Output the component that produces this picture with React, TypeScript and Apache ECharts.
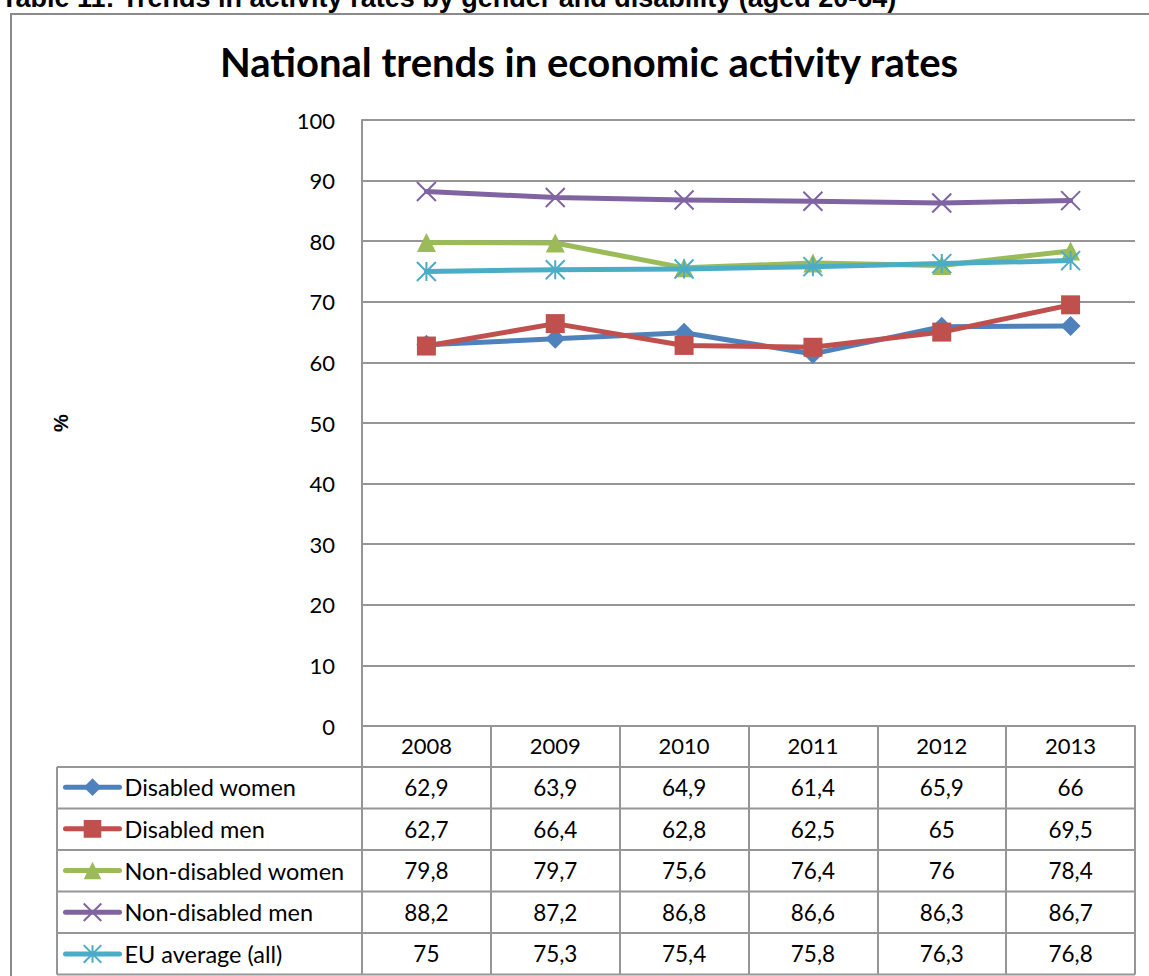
import React, { useEffect, useRef } from "react";
import * as echarts from "echarts";

const categories = ["2008", "2009", "2010", "2011", "2012", "2013"];
const seriesNames = [
  "Disabled women",
  "Disabled men",
  "Non-disabled women",
  "Non-disabled men",
  "EU average (all)",
];
const disabledWomen = [62.9, 63.9, 64.9, 61.4, 65.9, 66];
const disabledMen = [62.7, 66.4, 62.8, 62.5, 65, 69.5];
const nonDisabledWomen = [79.8, 79.7, 75.6, 76.4, 76, 78.4];
const nonDisabledMen = [88.2, 87.2, 86.8, 86.6, 86.3, 86.7];
const euAverage = [75, 75.3, 75.4, 75.8, 76.3, 76.8];
const seriesValues = [disabledWomen, disabledMen, nonDisabledWomen, nonDisabledMen, euAverage];
const seriesColors = ["#4F81BD", "#C0504D", "#9BBB59", "#8064A2", "#4BACC6"];
const seriesSymbols = [
  "diamond",
  "rect",
  "triangle",
  "path://M0,0L10,10M10,0L0,10",
  "path://M0,0L10,10M10,0L0,10M5,0L5,10",
];
const yMin = 0;
const yMax = 100;
const yInterval = 10;
const captionText = "Table 11: Trends in activity rates by gender and disability (aged 20-64)";
const titleText = "National trends in economic activity rates";
const yAxisName = "%";

const W = 1149;
const H = 976;
const GRID_LEFT = 362;
const GRID_RIGHT = 1135;
const GRID_TOP = 120;
const GRID_BOTTOM = 726;
const HEADER_H = 41;
const ROW_H = 41.5;
const TABLE_LEFT = 57;
const LINE_COLOR = "#969696";
const FONT = "Lato, 'Noto Sans', sans-serif";

const fmt = (v: number) => String(v).replace(".", ",");

export default function App() {
  const ref = useRef<HTMLDivElement>(null);
  useEffect(() => {
    if (!ref.current) return;
    const chart = echarts.init(ref.current, undefined, { renderer: "svg" });
    const colW = (GRID_RIGHT - GRID_LEFT) / categories.length;
    const tableTop = GRID_BOTTOM + HEADER_H;
    const tableBottom = tableTop + ROW_H * seriesNames.length;

    const graphics: any[] = [];
    graphics.push({
      type: "rect",
      shape: { x: 11, y: 14, width: 1200, height: 1100 },
      style: { fill: "none", stroke: "#8a8a8a", lineWidth: 2 },
      silent: true,
      z: 0,
    });
    graphics.push({
      type: "text",
      x: 1,
      y: -2,
      style: {
        text: captionText,
        font: "bold 27px 'Liberation Sans', Arial, sans-serif",
        fill: "#000",
        align: "left",
        verticalAlign: "middle",
      },
    });
    graphics.push({
      type: "text",
      x: 589,
      y: 62,
      style: {
        text: titleText,
        font: `bold 40px ${FONT}`,
        fill: "#000",
        align: "center",
        verticalAlign: "middle",
      },
    });
    // horizontal table lines
    for (let i = 0; i <= seriesNames.length; i++) {
      const y = tableTop + i * ROW_H;
      graphics.push({
        type: "line",
        shape: { x1: TABLE_LEFT, y1: y, x2: GRID_RIGHT, y2: y },
        style: { stroke: LINE_COLOR, lineWidth: 2 },
        silent: true,
      });
    }
    graphics.push({
      type: "line",
      shape: { x1: TABLE_LEFT, y1: tableTop, x2: TABLE_LEFT, y2: tableBottom },
      style: { stroke: LINE_COLOR, lineWidth: 2 },
      silent: true,
    });
    // table values
    seriesValues.forEach((vals, r) => {
      vals.forEach((v, c) => {
        graphics.push({
          type: "text",
          x: GRID_LEFT + colW * (c + 0.5),
          y: tableTop + ROW_H * (r + 0.5),
          style: {
            text: fmt(v),
            font: `22.5px ${FONT}`,
            fill: "#000",
            align: "center",
            verticalAlign: "middle",
          },
        });
      });
    });

    chart.setOption({
      animation: false,
      grid: {
        left: GRID_LEFT,
        right: W - GRID_RIGHT,
        top: GRID_TOP,
        bottom: H - GRID_BOTTOM,
        containLabel: false,
      },
      legend: {
        orient: "vertical",
        left: 63,
        top: tableTop + ROW_H / 2 - 12.6,
        padding: 0,
        itemWidth: 54,
        itemHeight: 22,
        itemGap: 17.7,
        selectedMode: false,
        data: seriesNames,
        lineStyle: { width: 5, cap: "round" },
        textStyle: { fontFamily: FONT, fontSize: 23.5, color: "#000" },
      },
      xAxis: {
        type: "category",
        data: categories,
        boundaryGap: true,
        axisLine: { show: true, lineStyle: { color: LINE_COLOR, width: 2 } },
        axisTick: {
          show: true,
          interval: 0,
          length: tableBottom - GRID_BOTTOM,
          lineStyle: { color: LINE_COLOR, width: 2 },
        },
        axisLabel: {
          interval: 0,
          margin: 8,
          fontFamily: FONT,
          fontSize: 22,
          color: "#000",
        },
        splitLine: { show: false },
      },
      yAxis: {
        type: "value",
        min: yMin,
        max: yMax,
        interval: yInterval,
        name: yAxisName,
        nameLocation: "middle",
        nameRotate: 90,
        nameGap: GRID_LEFT - 71,
        nameTextStyle: {
          fontFamily: "'Liberation Sans', Arial, sans-serif",
          fontSize: 20,
          fontWeight: "bold",
          color: "#000",
        },
        axisLine: { show: true, lineStyle: { color: LINE_COLOR, width: 2 } },
        axisTick: { show: false },
        axisLabel: { margin: 27, fontFamily: FONT, fontSize: 22, color: "#000" },
        splitLine: { show: true, lineStyle: { color: LINE_COLOR, width: 2 } },
      },
      series: seriesNames.map((name, i) => {
        const isPath = seriesSymbols[i].startsWith("path://");
        return {
          name,
          type: "line",
          data: seriesValues[i],
          symbol: seriesSymbols[i],
          symbolSize: isPath ? 19 : i === 0 ? 20 : 19,
          showAllSymbol: true,
          lineStyle: { color: seriesColors[i], width: 5, cap: "round", join: "round" },
          itemStyle: isPath
            ? { color: seriesColors[i], borderColor: seriesColors[i], borderWidth: 2 }
            : { color: seriesColors[i], borderWidth: 0 },
          emphasis: { disabled: true },
          z: 3 + i,
        };
      }),
      graphic: graphics,
    });
    return () => chart.dispose();
  }, []);
  return (
    <div
      ref={ref}
      style={{ position: "fixed", left: 0, top: 0, width: W, height: H, background: "#fff" }}
    />
  );
}
